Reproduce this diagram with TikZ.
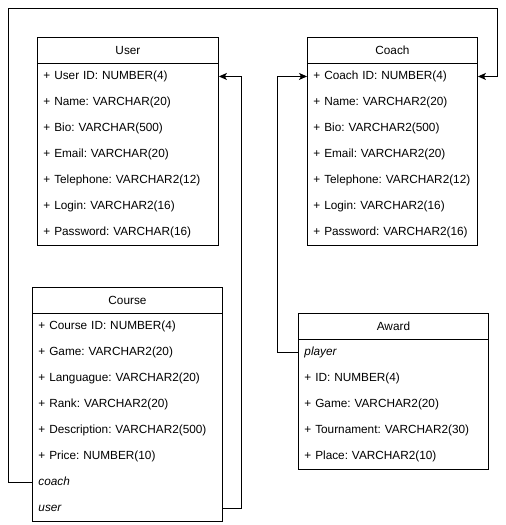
\documentclass[tikz,border=0pt]{standalone}
\usepackage{fontspec}
\setmainfont{Liberation Sans}
\usetikzlibrary{arrows.meta}
\frenchspacing

\begin{document}
\begin{tikzpicture}[x=1pt,y=-1pt,line width=0.9pt,font=\fontsize{11.8}{14}\selectfont,
  hdr/.style={draw,minimum width=#1,minimum height=26pt,inner sep=0pt,anchor=north west},
  row/.style={text width=#1,minimum height=26pt,inner xsep=6pt,inner ysep=0pt,
    text height=9pt,text depth=3pt,align=left,anchor=north west},
  it/.style={font=\fontsize{11.8}{14}\selectfont\itshape},
  fk/.style={-{Stealth[length=8pt,width=7pt,inset=2pt]}}]
\useasboundingbox (0,0) rectangle (506,525);
% user table
\node[hdr=181pt] (user) at (37,37) {User};
\foreach \t [count=\i] in {+ User ID: NUMBER(4),+ Name: VARCHAR(20),+ Bio: VARCHAR(500),
  + Email: VARCHAR(20),+ Telephone: VARCHAR2(12),+ Login: VARCHAR2(16),+ Password: VARCHAR(16)}
  \node[row=169pt] (user\i) at (37,{63+26*(\i-1)}) {\mbox{\t}};
\draw (user1.north west) rectangle (user7.south east);
% coach table
\node[hdr=170pt] (coach) at (307,37) {Coach};
\foreach \t [count=\i] in {+ Coach ID: NUMBER(4),+ Name: VARCHAR2(20),+ Bio: VARCHAR2(500),
  + Email: VARCHAR2(20),+ Telephone: VARCHAR2(12),+ Login: VARCHAR2(16),+ Password: VARCHAR2(16)}
  \node[row=158pt] (coach\i) at (307,{63+26*(\i-1)}) {\mbox{\t}};
\draw (coach1.north west) rectangle (coach7.south east);
% course table
\node[hdr=190pt] (course) at (32,287) {Course};
\foreach \t [count=\i] in {+ Course ID: NUMBER(4),+ Game: VARCHAR2(20),+ Languague: VARCHAR2(20),
  + Rank: VARCHAR2(20),+ Description: VARCHAR2(500),+ Price: NUMBER(10)}
  \node[row=178pt] (course\i) at (32,{313+26*(\i-1)}) {\mbox{\t}};
\node[row=178pt,it] (coursecoach) at (32,469) {coach};
\node[row=178pt,it] (courseuser) at (32,495) {user};
\draw (course1.north west) rectangle (courseuser.south east);
% award table
\node[hdr=190pt] (award) at (298,313) {Award};
\node[row=178pt,it] (awardplayer) at (298,339) {player};
\foreach \t [count=\i] in {+ ID: NUMBER(4),+ Game: VARCHAR2(20),+ Tournament: VARCHAR2(30),
  + Place: VARCHAR2(10)}
  \node[row=178pt] (award\i) at (298,{365+26*(\i-1)}) {\mbox{\t}};
\draw (awardplayer.north west) rectangle (award4.south east);
% links
\coordinate (topl) at (8,8);
\coordinate (topr) at (497,8);
\draw[fk] (coursecoach.west) -| (topl) -- (topr) |- (coach1.east);
\draw[fk] (courseuser.east) -- ++(19,0) |- (user1.east);
\draw[fk] (awardplayer.west) -- ++(-21,0) |- (coach1.west);
\end{tikzpicture}
\end{document}
